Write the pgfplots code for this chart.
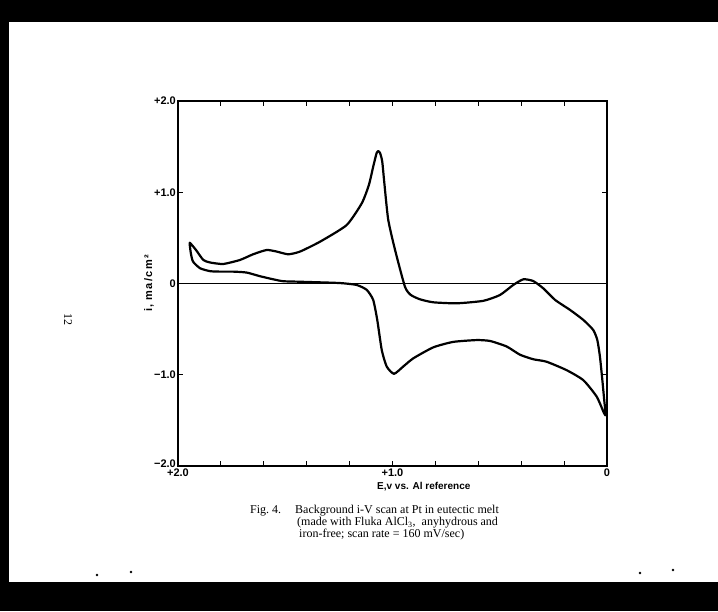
\documentclass[border=0pt]{standalone}
\usepackage{fontspec}
\setmainfont{Liberation Serif}
\setsansfont{Liberation Sans}
\usepackage{pgfplots}
\pgfplotsset{compat=1.18}

\begin{document}
\begin{tikzpicture}[x=1pt,y=1pt]
% scanned page: black margins
\useasboundingbox (0,0) rectangle (718,611);
\fill[black] (0,589) rectangle (718,611);
\fill[black] (0,0) rectangle (718,29);
\fill[black] (0,0) rectangle (9,611);

\begin{axis}[
  at={(178pt,145pt)}, anchor=south west,
  scale only axis, width=429pt, height=365pt,
  x dir=reverse, xmin=0, xmax=2, ymin=-2, ymax=2,
  axis line style={line width=1.6pt},
  tick style={line width=1.1pt, black},
  major tick length=5pt,
  xtick={0,0.2,0.4,0.6,0.8,1,1.2,1.4,1.6,1.8,2},
  xticklabels={0,,,,,{+1.0},,,,,{+2.0}},
  ytick={-2,-1,0,1,2},
  yticklabels={{\raisebox{5pt}{−2.0}},{−1.0},0,{+1.0},{+2.0}},
  ticklabel style={font=\fontsize{11}{13}\selectfont\sffamily\bfseries},
  yticklabel style={inner sep=1pt, xshift=-1pt},
  xticklabel style={inner sep=1pt, yshift=-2pt},
  xlabel={E,v vs. Al reference},
  xlabel style={font=\fontsize{10}{12}\selectfont\sffamily\bfseries,
    at={(axis description cs:0.573,0)}, anchor=center, yshift=-21pt},
  ylabel={i, ma/cm²},
  ylabel style={font=\fontsize{11}{13}\selectfont\sffamily\bfseries\addfontfeatures{LetterSpace=12},
    at={(axis description cs:-0.0676,0.5)}, anchor=center},
  clip=false,
]
% zero line
\addplot[line width=0.9pt] coordinates {(0,0) (2,0)};
% cyclic i-V scan
\addplot[line width=2.2pt, smooth, tension=0.35, line join=round] coordinates {
  (0.005,-1.45) (0.012,-1.30) (0.022,-1.05) (0.033,-0.80) (0.045,-0.62)
  (0.064,-0.51) (0.110,-0.40) (0.172,-0.29) (0.242,-0.18) (0.297,-0.053)
  (0.344,0.027) (0.390,0.046) (0.437,-0.016) (0.499,-0.126) (0.577,-0.19)
  (0.700,-0.217) (0.810,-0.206) (0.872,-0.173) (0.915,-0.125) (0.942,-0.035)
  (0.988,0.367) (1.020,0.70) (1.038,1.10) (1.048,1.34) (1.058,1.43)
  (1.066,1.45) (1.074,1.43) (1.090,1.28) (1.110,1.08) (1.143,0.88) (1.214,0.64)
  (1.338,0.458) (1.431,0.35) (1.486,0.32) (1.540,0.35) (1.587,0.367)
  (1.650,0.32) (1.711,0.258) (1.789,0.214) (1.850,0.23) (1.882,0.258)
  (1.916,0.367) (1.945,0.447)
  (1.944,0.40) (1.940,0.33) (1.930,0.24) (1.897,0.167) (1.850,0.135)
  (1.800,0.13) (1.742,0.13) (1.680,0.12) (1.618,0.08) (1.556,0.046)
  (1.510,0.025) (1.440,0.02) (1.370,0.015) (1.245,0.005) (1.167,-0.016)
  (1.120,-0.07) (1.090,-0.18) (1.071,-0.40) (1.050,-0.73) (1.027,-0.91)
  (0.993,-0.99) (0.950,-0.91) (0.903,-0.82) (0.810,-0.70) (0.717,-0.64)
  (0.607,-0.62) (0.545,-0.63) (0.468,-0.69) (0.406,-0.78) (0.344,-0.83)
  (0.282,-0.857) (0.188,-0.95) (0.110,-1.06) (0.048,-1.24) (0.014,-1.42)
  (0.005,-1.45)
};
\end{axis}

% caption
\begin{scope}[every node/.style={anchor=base west, inner sep=0pt,
    font=\fontsize{12}{13}\selectfont}]
\node at (250,97) {Fig.\ 4.};
\node at (295,97) {Background i-V scan at Pt in eutectic melt};
\node at (297,85.5) {(made with Fluka AlCl\textsubscript{3}, \ anyhydrous and};
\node at (299,74) {iron-free; scan rate = 160 mV/sec)};
\end{scope}

% page number
\node[rotate=-90, font=\fontsize{12}{14}\selectfont] at (68,291) {12};
% specks
\foreach \p in {(97,36),(131,39),(640,38),(673,41)} \fill \p circle (1.3);
\end{tikzpicture}
\end{document}
